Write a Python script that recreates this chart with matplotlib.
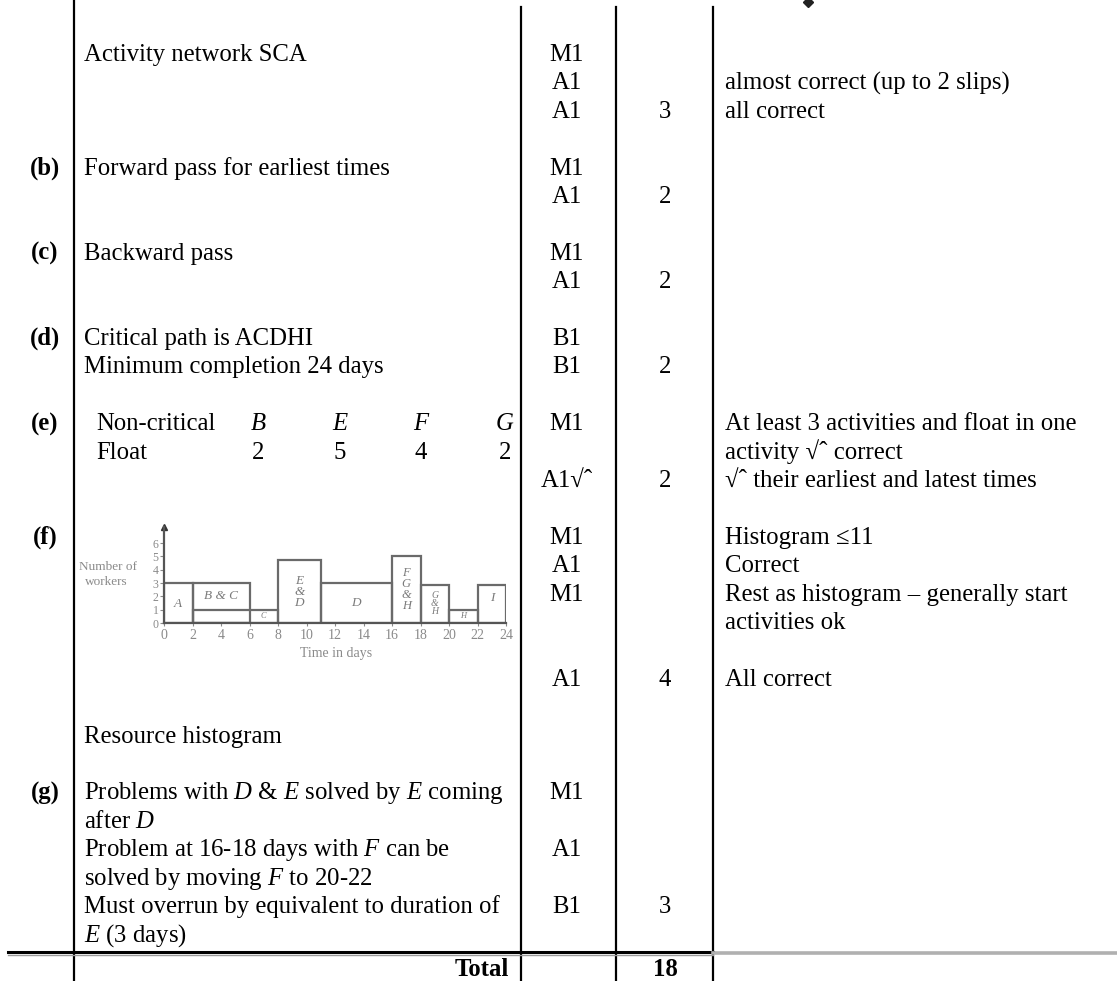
import matplotlib
matplotlib.use('Agg')
import matplotlib.pyplot as plt

plt.rcParams['font.family'] = ['Liberation Serif', 'DejaVu Serif']
plt.rcParams['mathtext.fontset'] = 'custom'
plt.rcParams['mathtext.rm'] = 'Liberation Serif'
plt.rcParams['mathtext.it'] = 'Liberation Serif:italic'

# mark scheme text, keyed by line number of the table
part_lines = {4: '(b)', 7: '(c)', 10: '(d)', 13: '(e)', 17: '(f)', 26: '(g)'}
answer_lines = {
    0: 'Activity network SCA',
    4: 'Forward pass for earliest times',
    7: 'Backward pass',
    10: 'Critical path is ACDHI',
    11: 'Minimum completion 24 days',
    24: 'Resource histogram',
    26: r'Problems with $D$ & $E$ solved by $E$ coming',
    27: r'after $D$',
    28: r'Problem at 16-18 days with $F$ can be',
    29: r'solved by moving $F$ to 20-22',
    30: 'Must overrun by equivalent to duration of',
    31: r'$E$ (3 days)',
}
mark_lines = {0: 'M1', 1: 'A1', 2: 'A1', 4: 'M1', 5: 'A1', 7: 'M1', 8: 'A1',
              10: 'B1', 11: 'B1', 13: 'M1', 15: 'A1\u221a\u02c6', 17: 'M1',
              18: 'A1', 19: 'M1', 22: 'A1', 26: 'M1', 28: 'A1', 30: 'B1'}
total_lines = {2: '3', 5: '2', 8: '2', 11: '2', 15: '2', 22: '4', 30: '3'}
comment_lines = {
    1: 'almost correct (up to 2 slips)',
    2: 'all correct',
    13: 'At least 3 activities and float in one',
    14: 'activity \u221a\u02c6 correct',
    15: '\u221a\u02c6 their earliest and latest times',
    17: 'Histogram \u226411',
    18: 'Correct',
    19: 'Rest as histogram \u2013 generally start',
    20: 'activities ok',
    22: 'All correct',
}
float_acts = ['B', 'E', 'F', 'G']
float_vals = [2, 5, 4, 2]
grand_total = 18

# resource histogram
hist_start = [0, 2, 2, 8, 11, 16, 18, 20, 22]
hist_width = [2, 4, 6, 3, 5, 2, 2, 2, 2]
hist_height = [3, 3, 1, 4.7, 3, 5, 2.85, 1, 2.85]
box_labels = ['A', 'B & C', 'C', 'E\n&\nD', 'D', 'F\nG\n&\nH', 'G\n&\nH', 'H', 'I']
box_x = [1, 4, 7, 9.5, 13.5, 17, 19, 21, 23]
box_y = [1.4, 2.0, 0.5, 2.35, 1.5, 2.5, 1.45, 0.5, 1.9]
box_size = [9.5, 9.5, 6, 9.5, 9.5, 9, 7, 6, 9.5]

W, H = 1117, 981
fig = plt.figure(figsize=(W / 100, H / 100), dpi=100)
ax = fig.add_axes([0, 0, 1, 1])
ax.set_xlim(0, W)
ax.set_ylim(H, 0)
ax.axis('off')

FS = 17.8
y0, pitch = 53, 28.4


def base(row):
    return y0 + row * pitch + 8


for r, t in part_lines.items():
    ax.text(45, base(r), t, ha='center', va='baseline', fontsize=FS, weight='bold')
for r, t in answer_lines.items():
    ax.text(84, base(r), t, ha='left', va='baseline', fontsize=FS)
for r, t in mark_lines.items():
    ax.text(567, base(r), t, ha='center', va='baseline', fontsize=FS)
for r, t in total_lines.items():
    ax.text(665, base(r), t, ha='center', va='baseline', fontsize=FS)
for r, t in comment_lines.items():
    ax.text(725, base(r), t, ha='left', va='baseline', fontsize=FS)

# (e) table of floats
ax.text(96, base(13), 'Non-critical', ha='left', va='baseline', fontsize=FS)
ax.text(96, base(14), 'Float', ha='left', va='baseline', fontsize=FS)
for xc, a, v in zip([258, 340, 421, 505], float_acts, float_vals):
    ax.text(xc, base(13), a, ha='center', va='baseline', fontsize=FS, style='italic')
    ax.text(xc, base(14), str(v), ha='center', va='baseline', fontsize=FS)

# total row
ax.text(509, 976, 'Total', ha='right', va='baseline', fontsize=FS, weight='bold')
ax.text(665, 976, str(grand_total), ha='center', va='baseline', fontsize=FS, weight='bold')

# table rules
ax.plot([74, 74], [0, H], color='k', lw=1.6)
for xv in [521, 616, 713]:
    ax.plot([xv, xv], [7, H], color='k', lw=1.6)
ax.plot([8, 713], [952, 952], color='k', lw=2.2)
ax.plot([8, 713], [955, 955], color='#9a9a9a', lw=1.0)
ax.plot([713, W], [953, 953], color='#b0b0b0', lw=2.6)
ax.plot(808, 2, marker='D', ms=5, color='#222')

# histogram inset
hx0, hx1, hy0, hyt = 164, 506, 623, 527
hax = fig.add_axes([hx0 / W, 1 - hy0 / H, (hx1 - hx0) / W, (hy0 - hyt) / H])
hax.set_facecolor('none')
hax.bar(hist_start, hist_height, width=hist_width, align='edge',
        facecolor='none', edgecolor='#6a6a6a', lw=1.6)
for x, y, t, s in zip(box_x, box_y, box_labels, box_size):
    hax.text(x, y, t, ha='center', va='center', fontsize=s, style='italic',
             color='#7a7a7a', linespacing=0.9)
hax.set_xlim(0, 24)
hax.set_ylim(0, 7.2)
hax.set_xticks(range(0, 25, 2))
hax.set_yticks(range(0, 7))
hax.tick_params(axis='x', labelsize=10, colors='#8a8a8a', length=2, direction='out', pad=2)
hax.tick_params(axis='y', labelsize=8.5, colors='#8a8a8a', length=3, direction='out', pad=1)
for s in ['top', 'right']:
    hax.spines[s].set_visible(False)
for s in ['left', 'bottom']:
    hax.spines[s].set_color('#555555')
    hax.spines[s].set_linewidth(1.6)
hax.plot(0, 7.2, marker='^', ms=5, color='#333', clip_on=False)
ax.text(108, 567, 'Number of', ha='center', va='center', fontsize=9.5, color='#8a8a8a')
ax.text(106, 582, 'workers', ha='center', va='center', fontsize=9.5, color='#8a8a8a')
ax.text(336, 654, 'Time in days', ha='center', va='center', fontsize=10, color='#8a8a8a')

fig.savefig('out.png', dpi=100)
